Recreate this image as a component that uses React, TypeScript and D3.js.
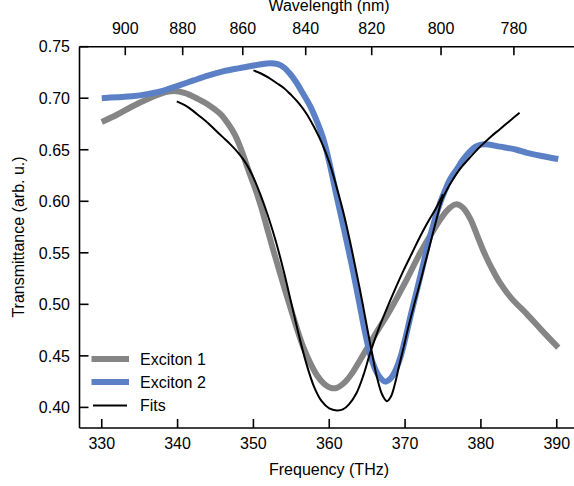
import React from "react";
import * as d3 from "d3";

const ex1Freq = [330, 332, 334, 336, 338, 339.5, 341, 342.5, 344, 345.6, 346.6, 347.6, 348.5, 349.3, 350.2, 351, 351.8, 352.6, 353.4, 354.2, 355, 355.8, 356.6, 357.5, 358.4, 359.3, 360.2, 361, 362, 363, 364, 366, 368, 370, 372, 373.5, 374.8, 375.8, 376.7, 377.6, 378.6, 379.5, 380.5, 381.5, 382.5, 384, 386, 388, 390.2];
const ex1Vals = [0.677, 0.684, 0.692, 0.699, 0.705, 0.707, 0.705, 0.700, 0.694, 0.685, 0.676, 0.664, 0.648, 0.631, 0.613, 0.595, 0.574, 0.553, 0.533, 0.513, 0.494, 0.475, 0.458, 0.443, 0.431, 0.423, 0.419, 0.419, 0.424, 0.433, 0.445, 0.470, 0.494, 0.521, 0.550, 0.569, 0.584, 0.593, 0.597, 0.594, 0.583, 0.567, 0.549, 0.534, 0.521, 0.506, 0.491, 0.475, 0.458];

const ex2Freq = [330, 332, 334, 336, 338, 340, 342, 344, 346, 348, 349.5, 351, 352.2, 353.2, 354, 354.8, 355.6, 356.5, 357.5, 358.4, 359.2, 360, 361, 362, 363, 364, 364.6, 365.2, 365.8, 366.5, 367.4, 368.2, 368.8, 369.4, 370, 370.7, 371.4, 372, 373.3, 374.6, 375.3, 375.9, 376.8, 377.6, 378.5, 379.3, 380, 381, 382.5, 384.7, 386.1, 388, 390.2];
const ex2Vals = [0.700, 0.701, 0.702, 0.704, 0.707, 0.712, 0.717, 0.722, 0.726, 0.729, 0.731, 0.733, 0.734, 0.733, 0.730, 0.724, 0.716, 0.705, 0.692, 0.677, 0.661, 0.638, 0.604, 0.571, 0.537, 0.500, 0.477, 0.457, 0.442, 0.431, 0.425, 0.429, 0.437, 0.449, 0.466, 0.488, 0.509, 0.527, 0.566, 0.598, 0.611, 0.621, 0.631, 0.640, 0.648, 0.653, 0.655, 0.655, 0.653, 0.650, 0.647, 0.644, 0.641];

const fit1Freq = [339.9, 341, 342, 343, 344, 345, 346, 347, 348, 349, 350, 351, 352, 353, 354, 355, 356, 357, 358, 359, 360, 361, 361.8, 362.6, 363.6, 364.5, 365.4, 366.5, 367.6, 368.7, 369.8, 371, 372, 373.1, 374.2, 375.0];
const fit1Vals = [0.697, 0.693, 0.688, 0.682, 0.676, 0.669, 0.662, 0.655, 0.647, 0.637, 0.623, 0.605, 0.584, 0.560, 0.532, 0.501, 0.470, 0.442, 0.420, 0.406, 0.399, 0.397, 0.398, 0.403, 0.414, 0.431, 0.453, 0.476, 0.496, 0.515, 0.533, 0.551, 0.566, 0.581, 0.595, 0.607];

const fit2Freq = [350, 351, 352, 353, 354, 355, 356, 357, 358, 359, 360, 361, 362, 363, 364, 365, 365.6, 366.3, 367, 367.6, 368.1, 368.7, 369.2, 369.8, 370.4, 371.1, 371.8, 372.4, 373, 373.7, 374.3, 374.8, 375.5, 376.2, 377.3, 378.5, 379.9, 381.2, 382.5, 383.8, 385.1];
const fit2Vals = [0.727, 0.724, 0.720, 0.715, 0.710, 0.703, 0.695, 0.685, 0.672, 0.657, 0.638, 0.613, 0.585, 0.552, 0.516, 0.477, 0.454, 0.429, 0.412, 0.406, 0.410, 0.424, 0.440, 0.458, 0.477, 0.497, 0.516, 0.533, 0.550, 0.570, 0.587, 0.600, 0.611, 0.620, 0.632, 0.642, 0.653, 0.662, 0.670, 0.678, 0.686];

const freqTicks = [330, 340, 350, 360, 370, 380, 390];
const transTicks = [0.40, 0.45, 0.50, 0.55, 0.60, 0.65, 0.70, 0.75];
const wavelengthTicks = [900, 880, 860, 840, 820, 800, 780];
const legendLabels = ["Exciton 1", "Exciton 2", "Fits"];

const GRAY = "#858585";
const BLUE = "#5b80c6";
const FONT = "'Liberation Sans', Arial, Helvetica, sans-serif";
const C = 299792.458;

export default function App() {
  const x = d3.scaleLinear().domain([327, 393]).range([79, 579.5]);
  const y = d3.scaleLinear().domain([0.38, 0.75]).range([428, 46.7]);
  const line = d3
    .line<[number, number]>()
    .x((d) => x(d[0]))
    .y((d) => y(d[1]))
    .curve(d3.curveCatmullRom.alpha(0.5));
  const zip = (a: number[], b: number[]) => a.map((v, i) => [v, b[i]] as [number, number]);

  const left = 79.5;
  const bottom = 428;
  const top = 46.7;
  const tick = 9;
  const legendColors = [GRAY, BLUE, "#000"];
  const legendWidths = [6, 6, 2];
  const legendY = [359, 382, 405.5];

  return (
    <svg
      width={574}
      height={486}
      style={{ position: "absolute", left: 0, top: 0, background: "#fff" }}
      fontFamily={FONT}
    >
      <rect x={0} y={0} width={574} height={486} fill="#fff" />
      {/* data */}
      <path d={line(zip(ex1Freq, ex1Vals)) || ""} fill="none" stroke={GRAY} strokeWidth={6} strokeLinejoin="round" />
      <path d={line(zip(ex2Freq, ex2Vals)) || ""} fill="none" stroke={BLUE} strokeWidth={6} strokeLinejoin="round" />
      <path d={line(zip(fit1Freq, fit1Vals)) || ""} fill="none" stroke="#000" strokeWidth={2} />
      <path d={line(zip(fit2Freq, fit2Vals)) || ""} fill="none" stroke="#000" strokeWidth={2} />

      {/* axes lines */}
      <line x1={left} x2={580} y1={bottom} y2={bottom} stroke="#000" strokeWidth={1.6} />
      <line x1={left} x2={580} y1={top} y2={top} stroke="#000" strokeWidth={1.6} />
      <line x1={left} x2={left} y1={top} y2={bottom} stroke="#000" strokeWidth={1.6} />

      {/* bottom ticks */}
      {freqTicks.map((t) => (
        <g key={"f" + t}>
          <line x1={x(t)} x2={x(t)} y1={bottom} y2={bottom - tick} stroke="#000" strokeWidth={1.6} />
          <text x={x(t)} y={449} textAnchor="middle" fontSize={16}>
            {t}
          </text>
        </g>
      ))}
      {/* left ticks */}
      {transTicks.map((t) => (
        <g key={"t" + t}>
          <line x1={left} x2={left + tick} y1={y(t)} y2={y(t)} stroke="#000" strokeWidth={1.6} />
          <text x={70} y={y(t)} dy="0.36em" textAnchor="end" fontSize={16}>
            {t.toFixed(2)}
          </text>
        </g>
      ))}
      {/* top ticks */}
      {wavelengthTicks.map((w) => (
        <g key={"w" + w}>
          <line x1={x(C / w)} x2={x(C / w)} y1={top} y2={top + 8.5} stroke="#000" strokeWidth={1.6} />
          <text x={x(C / w)} y={34} textAnchor="middle" fontSize={16}>
            {w}
          </text>
        </g>
      ))}

      {/* axis titles */}
      <text x={329} y={475} textAnchor="middle" fontSize={16}>
        Frequency (THz)
      </text>
      <text x={329} y={11} textAnchor="middle" fontSize={16}>
        Wavelength (nm)
      </text>
      <text transform="translate(24,237) rotate(-90)" textAnchor="middle" fontSize={16}>
        Transmittance (arb. u.)
      </text>

      {/* legend */}
      {legendLabels.map((l, i) => (
        <g key={l}>
          <line
            x1={i === 2 ? 93 : 91.5}
            x2={i === 2 ? 127 : 129}
            y1={legendY[i]}
            y2={legendY[i]}
            stroke={legendColors[i]}
            strokeWidth={legendWidths[i]}
          />
          <text x={140} y={legendY[i]} dy="0.36em" fontSize={16}>
            {l}
          </text>
        </g>
      ))}
    </svg>
  );
}
